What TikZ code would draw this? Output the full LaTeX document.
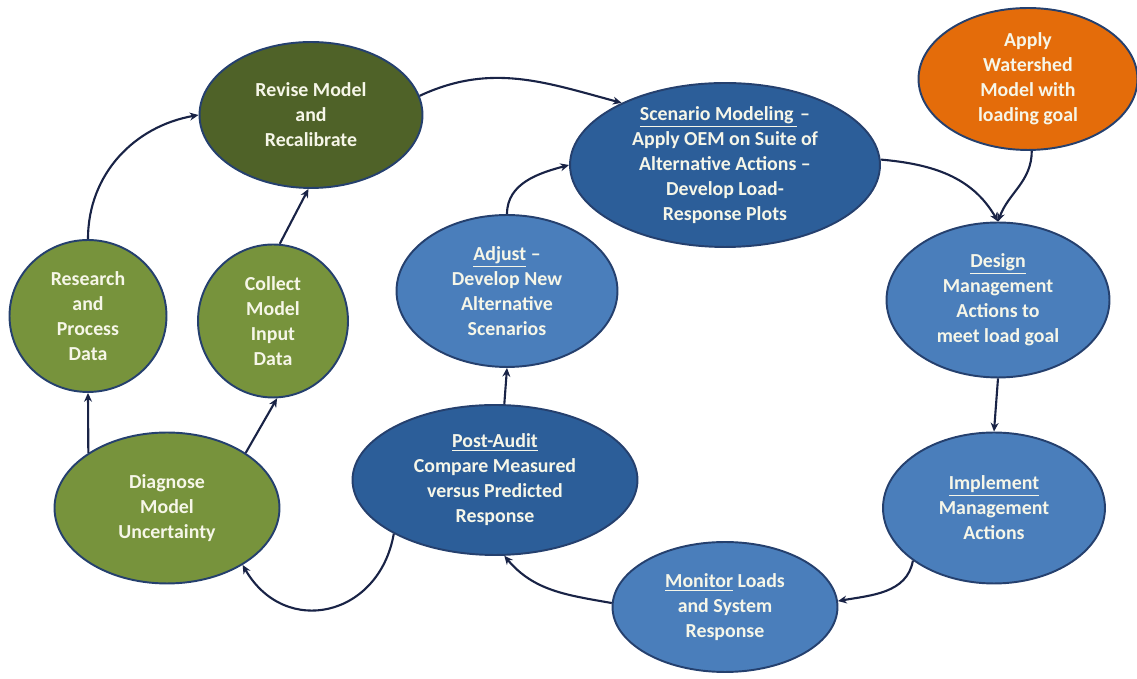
\documentclass[tikz,border=0pt]{standalone}
\usepackage{fontspec}
\setmainfont{Carlito}
\usetikzlibrary{shapes.geometric,arrows.meta}

\definecolor{leaf}{RGB}{119,147,60}
\definecolor{moss}{RGB}{79,98,40}
\definecolor{deepblue}{RGB}{44,94,153}
\definecolor{skyblue}{RGB}{74,126,187}
\definecolor{pumpkin}{RGB}{228,108,10}
\definecolor{rim}{RGB}{37,64,110}
\definecolor{wire}{RGB}{25,35,70}
\definecolor{cream}{RGB}{246,246,232}

\tikzset{
  bubble/.style={ellipse, draw=rim, line width=1.1pt, inner xsep=0pt, inner ysep=-5pt,
    align=center, text=cream, font=\fontsize{11.3}{14.2}\selectfont\bfseries},
  link/.style={->, draw=wire, line width=1.2pt}
}

\begin{document}
\begin{tikzpicture}[x=0.02cm, y=0.02cm, >={Stealth[length=5pt,width=4.5pt]}]
\useasboundingbox (0,0) rectangle (1137,679);

% Model side (green)
\node[bubble, fill=moss, minimum width=4.46cm, minimum height=2.92cm] (revise) at (311,564) {Revise Model\\and\\Recalibrate};
\node[bubble, fill=leaf, minimum width=3.14cm, minimum height=3.04cm] (res) at (88,363) {Research\\and\\Process\\Data};
\node[bubble, fill=leaf, minimum width=3.0cm, minimum height=3.06cm] (coll) at (273,358) {Collect\\Model\\Input\\Data};
\node[bubble, fill=leaf, minimum width=4.5cm, minimum height=3.02cm] (diag) at (167,171) {Diagnose\\Model\\Uncertainty};

% Management side (blue)
\node[bubble, fill=deepblue, minimum width=6.2cm, minimum height=3.28cm] (scen) at (725,514) {\underline{Scenario Modeling\,}\,--\\Apply OEM on Suite of\\Alternative Actions --\\Develop Load-\\Response Plots};
\node[bubble, fill=pumpkin, minimum width=4.38cm, minimum height=2.84cm] (shed) at (1028,600) {Apply\\Watershed\\Model with\\loading goal};
\node[bubble, fill=skyblue, minimum width=4.46cm, minimum height=3.1cm] (design) at (998,379) {\underline{Design}\\Management\\Actions to\\meet load goal};
\node[bubble, fill=skyblue, minimum width=4.44cm, minimum height=3.02cm] (impl) at (994,171) {\underline{Implement}\\Management\\Actions};
\node[bubble, fill=skyblue, minimum width=4.5cm, minimum height=2.6cm] (monitor) at (725,72) {\underline{Monitor} Loads\\and System\\Response};
\node[bubble, fill=deepblue, minimum width=5.7cm, minimum height=3.0cm] (post) at (495,199) {\underline{Post-Audit}\\Compare Measured\\versus Predicted\\Response};
\node[bubble, fill=skyblue, minimum width=4.42cm, minimum height=3.04cm] (adjust) at (507,388) {\underline{Adjust} --\\Develop New\\Alternative\\Scenarios};

% Connectors
\draw[link] (revise.10) to[out=25, in=165] (scen.149);
\draw[link] (scen.2) to[out=-5, in=120] (design.north);
\draw[link] (shed.-87) to[out=-90, in=70] (design.north);
\draw[link] (design.south) -- (impl.north);
\draw[link] (impl.213) to[out=-100, in=10] (monitor.3);
\draw[link] (monitor.178) to[out=170, in=-50] (post.-83);
\draw[link] (post.83) -- (adjust.south);
\draw[link] (adjust.north) to[out=90, in=195] (scen.west);
\draw[link] (post.208) to[out=-100, in=-60, looseness=1.4] (diag.-37);
\draw[link] (diag.145) -- (res.south);
\draw[link] (diag.35) -- (coll.-87);
\draw[link] (res.north) to[out=90, in=190] (revise.west);
\draw[link] (coll.85) -- (revise.-92);

\end{tikzpicture}
\end{document}
